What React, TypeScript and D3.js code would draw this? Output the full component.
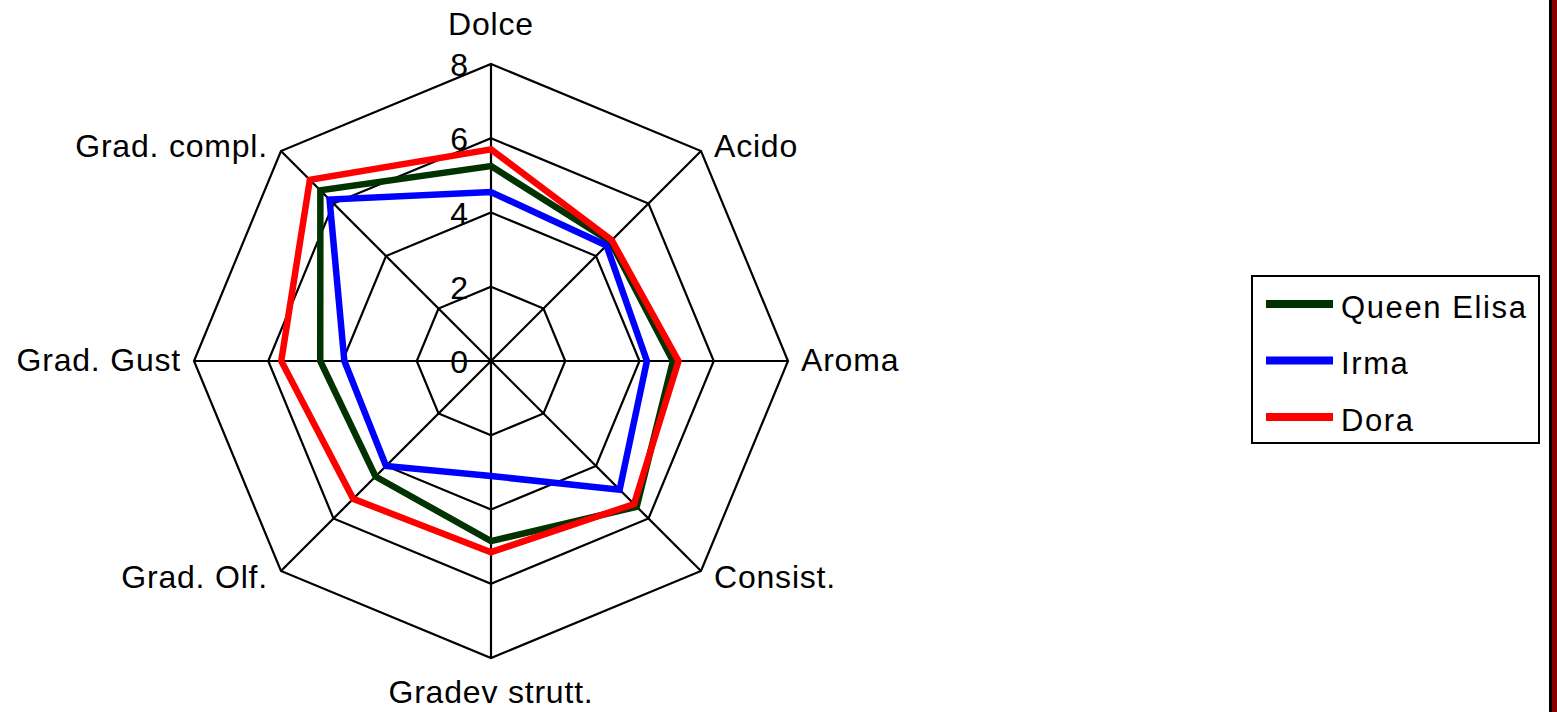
import React from "react";
import * as d3 from "d3";

const axes = ["Dolce", "Acido", "Aroma", "Consist.", "Gradev strutt.", "Grad. Olf.", "Grad. Gust", "Grad. compl."];
const ticks = [0, 2, 4, 6, 8];
const seriesNames = ["Queen Elisa", "Irma", "Dora"];
const seriesColors = ["#003300", "#0000ff", "#ff0000"];
const queenElisa = [5.25, 4.55, 4.9, 5.55, 4.85, 4.4, 4.6, 6.5];
const irma = [4.55, 4.4, 4.2, 4.9, 3.1, 4.0, 3.95, 6.15];
const dora = [5.7, 4.6, 5.05, 5.45, 5.15, 5.25, 5.65, 6.9];
const seriesValues = [queenElisa, irma, dora];

const W = 1557;
const H = 712;
const cx = 491;
const cy = 361;
const R = 297;
const font = "'Liberation Sans', Arial, sans-serif";

export default function App() {
  const r = d3.scaleLinear().domain([0, 8]).range([0, R]);
  const n = axes.length;
  const ang = (i: number) => (i * 2 * Math.PI) / n;
  const radial = d3
    .lineRadial<number>()
    .angle((_, i) => ang(i))
    .radius((d) => r(d))
    .curve(d3.curveLinearClosed);

  const pt = (i: number, v: number): [number, number] => [
    cx + r(v) * Math.sin(ang(i)),
    cy - r(v) * Math.cos(ang(i)),
  ];

  const labelPos = (i: number) => {
    const [x, y] = pt(i, 8);
    const s = Math.sin(ang(i));
    const c = Math.cos(ang(i));
    let anchor = "middle";
    let dx = 0;
    let dy = 0;
    if (s > 0.1) {
      anchor = "start";
      dx = 13;
    } else if (s < -0.1) {
      anchor = "end";
      dx = -13;
    }
    if (c > 0.9) dy = -29;
    else if (c < -0.9) dy = 45;
    else if (c > 0.1) dy = 6;
    else if (c < -0.1) dy = 17;
    else dy = 10;
    return { x: x + dx, y: y + dy, anchor };
  };

  return (
    <svg
      width={W}
      height={H}
      style={{ position: "absolute", left: 0, top: 0, display: "block", background: "#fff" }}
      fontFamily={font}
    >
      <rect x={0} y={0} width={W} height={H} fill="#fff" />
      {ticks
        .filter((t) => t > 0)
        .map((t) => (
          <path
            key={"ring" + t}
            d={radial(axes.map(() => t)) || ""}
            transform={`translate(${cx},${cy})`}
            fill="none"
            stroke="#000"
            strokeWidth={2.2}
          />
        ))}
      {axes.map((a, i) => {
        const [x, y] = pt(i, 8);
        return <line key={"sp" + a} x1={cx} y1={cy} x2={x} y2={y} stroke="#000" strokeWidth={2.2} />;
      })}
      {ticks.map((t) => (
        <text key={"tk" + t} x={468} y={cy - r(t) + 12} fontSize={32} textAnchor="end" fill="#000">
          {t}
        </text>
      ))}
      {axes.map((a, i) => {
        const p = labelPos(i);
        return (
          <text
            key={"lb" + a}
            x={p.x}
            y={p.y}
            fontSize={32}
            letterSpacing={0.8}
            textAnchor={p.anchor}
            fill="#000"
          >
            {a}
          </text>
        );
      })}
      {seriesValues.map((vals, si) => (
        <path
          key={"s" + si}
          d={radial(vals) || ""}
          transform={`translate(${cx},${cy})`}
          fill="none"
          stroke={seriesColors[si]}
          strokeWidth={6.5}
          strokeLinejoin="miter"
        />
      ))}
      <rect x={1252} y={276} width={287} height={167} fill="#fff" stroke="#000" strokeWidth={2} />
      {seriesNames.map((nm, i) => {
        const y = 304 + i * 56.5;
        return (
          <g key={"lg" + nm}>
            <line x1={1266} x2={1333} y1={y} y2={y} stroke={seriesColors[i]} strokeWidth={8} />
            <text x={1341} y={y + 13.5} fontSize={31} letterSpacing={1.6} fill="#000">
              {nm}
            </text>
          </g>
        );
      })}
      <rect x={1549} y={0} width={3} height={H} fill="#000" />
      <rect x={1552} y={0} width={5} height={H} fill="#8b0000" />
    </svg>
  );
}
